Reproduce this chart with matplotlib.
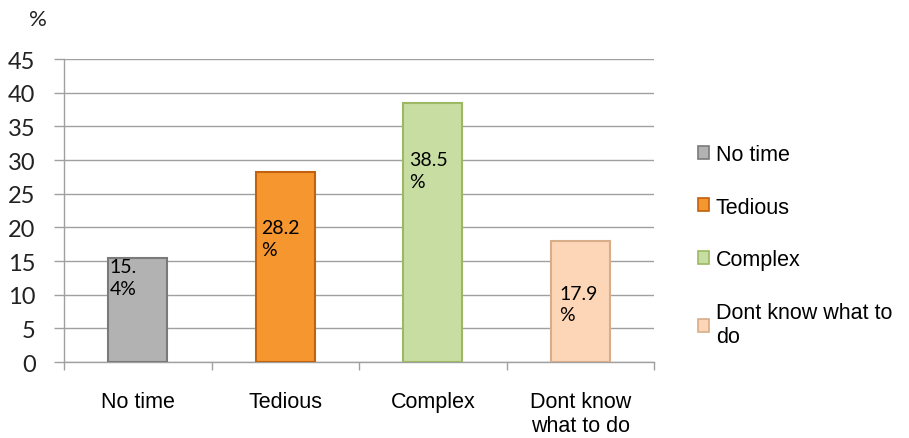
import numpy as np
import matplotlib.pyplot as plt
from matplotlib.patches import Patch

# dados
categorias = ["No time", "Tedious", "Complex", "Dont know\nwhat to do"]
legenda = ["No time", "Tedious", "Complex", "Dont know what to\ndo"]
valores = [15.4, 28.2, 38.5, 17.9]
rotulos = ["15.\n4%", "28.2\n%", "38.5\n%", "17.9\n%"]
yticks = [0, 5, 10, 15, 20, 25, 30, 35, 40, 45]

# estilo
cores = ["#b2b2b2", "#f5962f", "#c8dda2", "#fcd6b6"]
bordas = ["#7a7a7a", "#c0620e", "#9cb862", "#d8ad8a"]
desl_rotulo = [0, 34, 35, 31]  # distância (pt) do topo da barra até o texto
desl_x = [1, 4, 4, 6]
cinza = "#a0a0a0"

fig = plt.figure(figsize=(9.09, 4.39), dpi=100)
ax = fig.add_axes([0.0704, 0.1731, 0.6491, 0.6902])

x = np.arange(len(valores))
larg = 0.4
barras = ax.bar(x, valores, width=larg, color=cores, edgecolor=bordas,
                linewidth=1.5, zorder=3)

ax.set_ylim(0, 45)
ax.set_xlim(-0.5, len(valores) - 0.5)
ax.set_yticks(yticks)
ax.set_yticklabels([str(t) for t in yticks], fontsize=17, family="Lato",
                   color="#222222")
ax.yaxis.grid(True, color=cinza, lw=1, zorder=0)
ax.tick_params(axis="y", length=7.5, color=cinza, width=1, pad=13)

# ticks do eixo x nas divisas das categorias
ax.set_xticks(np.arange(len(valores) + 1) - 0.5)
ax.set_xticklabels([])
ax.tick_params(axis="x", length=6, color=cinza, width=1)
for i, c in enumerate(categorias):
    ax.text(i, -4.3, c, ha="center", va="top", fontsize=15.5,
            family="Liberation Sans", linespacing=1.2)

for s in ["top", "right"]:
    ax.spines[s].set_visible(False)
for s in ["left", "bottom"]:
    ax.spines[s].set_color(cinza)
    ax.spines[s].set_linewidth(1)

# rótulos dentro das barras
for i, b in enumerate(barras):
    ax.annotate(rotulos[i], (b.get_x(), b.get_height()),
                xytext=(desl_x[i], -desl_rotulo[i]), textcoords="offset points",
                ha="left", va="top", fontsize=14, family="Lato",
                linespacing=1.35, zorder=4)

fig.text(0.042, 0.955, "%", fontsize=16, family="Lato", ha="center",
         va="center", color="#222222")

handles = [Patch(facecolor=cores[i], edgecolor=bordas[i], lw=1.2)
           for i in range(len(valores))]
leg = fig.legend(handles, legenda, loc="upper left",
                 bbox_to_anchor=(0.758, 0.69), frameon=False,
                 prop={"family": "Liberation Sans", "size": 15.5},
                 handlelength=0.55, handleheight=0.55, handletextpad=0.3,
                 labelspacing=1.48, borderaxespad=0)

fig.savefig("out.png", dpi=100)
